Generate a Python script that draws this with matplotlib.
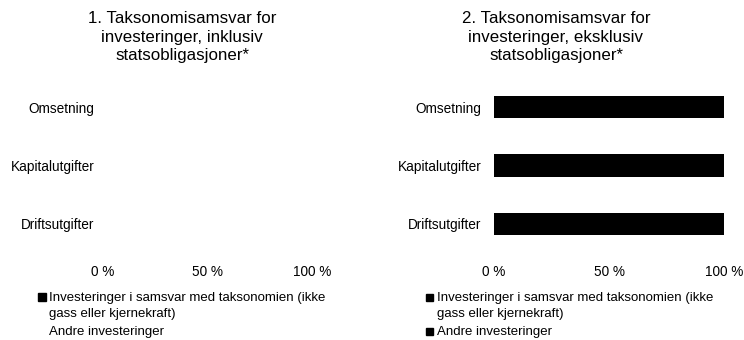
import numpy as np
import matplotlib.pyplot as plt
from matplotlib.patches import Rectangle

plt.rcParams['font.family'] = ['Liberation Sans', 'DejaVu Sans']

categories = ['Omsetning', 'Kapitalutgifter', 'Driftsutgifter']
incl_aligned = [0, 0, 0]
incl_other = [100, 100, 100]
excl_aligned = [100, 100, 100]
excl_other = [0, 0, 0]
xticks = [0, 50, 100]
xtick_labels = ['0 %', '50 %', '100 %']

titles = ['1. Taksonomisamsvar for\ninvesteringer, inklusiv\nstatsobligasjoner*',
          '2. Taksonomisamsvar for\ninvesteringer, eksklusiv\nstatsobligasjoner*']
legend_labels = ['Investeringer i samsvar med taksonomien (ikke\ngass eller kjernekraft)',
                 'Andre investeringer']

W, H = 744, 340
fig = plt.figure(figsize=(W / 100, H / 100), dpi=100)


def panel(x0, x1, aligned, other, other_color, ypad):
    ax = fig.add_axes([x0 / W, (H - 253) / H, (x1 - x0) / W, 175 / H])
    y = np.arange(len(categories))
    b1 = ax.barh(y, aligned, height=0.38, color='black')
    b2 = ax.barh(y, other, left=aligned, height=0.38, color=other_color)
    ax.set_xlim(0, 100)
    ax.set_ylim(2.5, -0.5)
    ax.set_yticks(y)
    ax.set_yticklabels(categories, fontsize=9.8)
    ax.set_xticks(xticks)
    ax.set_xticklabels(xtick_labels, fontsize=9.8)
    ax.tick_params(axis='x', length=0, pad=9)
    ax.tick_params(axis='y', length=0, pad=ypad)
    for s in ax.spines.values():
        s.set_visible(False)
    return b1, b2


a1, o1 = panel(103, 312, incl_aligned, incl_other, 'white', 6)
a2, o2 = panel(494, 724, excl_aligned, excl_other, 'black', 9)

for tx, t in zip([182, 556], titles):
    fig.text(tx / W, 1 - 11 / H, t, ha='center', va='top', fontsize=12.2, linespacing=1.3)

# legend: square marker beside the first line of each entry
for mx, msize, tx, bars in [(38, 8, 49, (a1, o1)), (426, 7, 437, (a2, o2))]:
    for yc, lab, b in zip([297, 331], legend_labels, bars):
        col = b.patches[0].get_facecolor()
        fig.patches.append(Rectangle((mx / W, (H - yc - msize / 2) / H), msize / W, msize / H,
                                     transform=fig.transFigure, color=col, figure=fig))
        for i, line in enumerate(lab.split('\n')):
            fig.text(tx / W, 1 - (yc + 4.5 + 16 * i) / H, line, ha='left',
                     va='baseline', fontsize=9.5)

fig.savefig('out.png', dpi=100)
